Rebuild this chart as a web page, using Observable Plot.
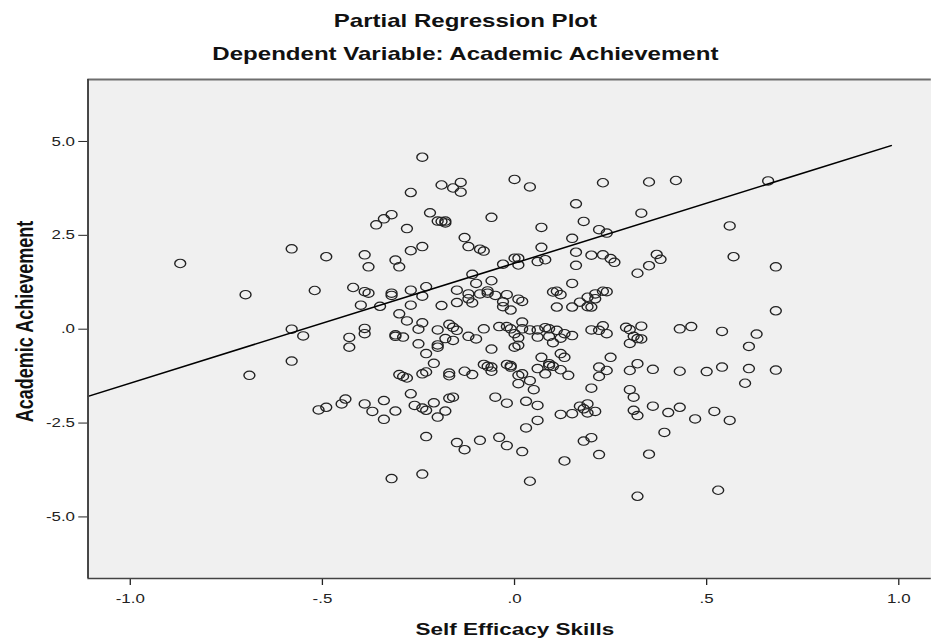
<!DOCTYPE html>
<html><head><meta charset="utf-8">
<script src="https://cdn.jsdelivr.net/npm/d3@7"></script>
<script src="https://cdn.jsdelivr.net/npm/@observablehq/plot@0.6"></script>
<style>
html,body{margin:0;padding:0;background:#fff;}
#wrap{width:716px;transform:scaleX(1.3);transform-origin:0 0;font-family:"Liberation Sans",Arial,sans-serif;color:#111;}
.t1{height:42px;line-height:42px;text-align:center;font-weight:bold;font-size:18.5px;}
.t2{height:23px;line-height:23px;text-align:center;font-weight:bold;font-size:18.5px;}
svg{display:block}
</style></head><body>
<div id="wrap"><div class="t1">Partial Regression Plot</div><div class="t2">Dependent Variable: Academic Achievement</div><div id="chart"></div></div>
<script>
const effX=[-0.87,-0.58,-0.49,-0.39,-0.70,-0.52,-0.42,-0.39,-0.38,-0.40,-0.58,-0.55,-0.43,-0.43,-0.39,-0.58,-0.69,-0.51,-0.49,-0.45,-0.44,-0.39,
-0.24,-0.19,-0.14,-0.16,-0.14,-0.27,0.00,0.04,0.23,0.16,0.18,0.07,-0.06,-0.22,-0.20,-0.19,-0.18,-0.18,-0.36,-0.34,-0.32,-0.28,-0.13,-0.12,-0.09,-0.08,-0.24,-0.27,-0.38,-0.31,-0.30,
0.07,0.22,0.24,0.15,0.16,0.20,0.16,0.23,0.25,0.26,0.00,0.01,0.01,-0.03,0.06,0.08,-0.11,-0.10,-0.06,0.15,-0.32,-0.32,-0.35,-0.27,-0.23,-0.24,-0.27,-0.19,-0.15,-0.15,-0.12,-0.12,-0.11,-0.09,-0.07,-0.07,-0.05,-0.02,-0.03,-0.03,-0.01,0.01,0.02,
0.10,0.11,0.12,0.11,0.15,0.17,0.19,0.19,0.20,0.21,0.21,0.23,0.24,-0.30,-0.28,-0.24,-0.25,-0.20,-0.17,-0.16,-0.15,-0.16,-0.18,-0.20,-0.20,-0.31,-0.31,-0.29,-0.39,-0.25,-0.23,-0.12,-0.10,-0.08,-0.06,-0.04,-0.02,-0.01,0.02,0.02,0.00,0.01,0.01,0.00,
0.04,0.06,0.08,0.09,0.09,0.06,0.10,0.11,0.12,0.13,0.15,0.20,0.22,0.23,0.24,0.07,0.12,0.13,0.25,
0.35,0.42,0.66,0.33,0.56,0.57,0.68,0.37,0.38,0.35,0.32,0.68,0.29,0.30,0.33,0.31,0.32,0.33,0.30,0.43,0.46,0.54,0.63,0.61,
0.32,0.24,0.30,0.36,0.43,0.50,0.54,0.61,0.68,0.60,0.30,0.31,0.31,0.32,0.36,0.40,0.43,0.47,0.52,0.56,0.39,0.35,0.32,0.53,
-0.21,-0.23,-0.24,-0.30,-0.29,-0.28,-0.17,-0.17,-0.13,-0.11,-0.08,-0.07,-0.06,-0.06,-0.02,-0.01,-0.01,0.01,0.02,0.01,0.04,0.05,0.06,0.08,0.09,0.09,0.10,0.12,0.14,0.22,0.22,0.20,
-0.27,-0.34,-0.37,-0.31,-0.34,-0.26,-0.24,-0.23,-0.21,-0.18,-0.20,-0.17,-0.16,-0.05,-0.02,0.03,0.06,0.06,0.03,0.12,0.15,0.17,0.19,0.18,0.19,0.21,
-0.23,-0.15,-0.13,-0.09,-0.04,-0.02,0.02,0.18,0.20,0.13,0.22,-0.32,-0.24,0.04];
const achY=[1.75,2.14,1.93,1.98,0.92,1.03,1.11,1.00,0.96,0.64,0.00,-0.18,-0.22,-0.48,0.02,-0.85,-1.23,-2.15,-2.08,-1.99,-1.86,-1.99,
4.58,3.84,3.91,3.76,3.65,3.64,3.99,3.79,3.90,3.34,2.87,2.71,2.98,3.10,2.88,2.87,2.88,2.83,2.78,2.94,3.05,2.68,2.44,2.20,2.13,2.08,2.20,2.09,1.66,1.84,1.66,
2.18,2.65,2.56,2.42,2.05,1.97,1.70,1.98,1.88,1.78,1.89,1.89,1.71,1.73,1.80,1.85,1.46,1.22,1.29,1.22,0.90,0.96,0.61,1.04,1.13,0.88,0.64,0.63,1.04,0.71,0.94,0.81,0.70,0.94,1.02,0.96,0.90,0.92,0.73,0.60,0.51,0.80,0.74,
0.99,1.01,0.92,0.59,0.59,0.72,0.85,0.60,0.59,0.81,0.94,1.01,1.00,0.41,0.22,0.17,0.00,-0.02,0.13,0.05,-0.03,-0.30,-0.25,-0.42,-0.48,-0.15,-0.19,-0.21,-0.12,-0.39,-0.65,-0.19,-0.26,0.01,-0.53,0.07,0.07,0.01,0.19,0.01,-0.12,-0.23,-0.43,-0.48,
-0.02,-0.02,0.04,0.01,-0.19,-0.21,-0.36,-0.03,-0.24,-0.12,-0.17,-0.02,-0.03,0.09,-0.12,-0.75,-0.65,-0.75,-0.75,
3.92,3.96,3.95,3.09,2.75,1.93,1.66,1.99,1.86,1.69,1.49,0.49,0.05,-0.01,0.08,-0.19,-0.25,-0.26,-0.38,0.01,0.07,-0.06,-0.13,-0.46,
-0.92,-1.10,-1.10,-1.07,-1.12,-1.13,-1.01,-1.05,-1.09,-1.44,-1.61,-1.81,-2.16,-2.30,-2.05,-2.22,-2.08,-2.39,-2.19,-2.43,-2.75,-3.33,-4.45,-4.29,
-0.91,-1.14,-1.19,-1.21,-1.26,-1.30,-1.17,-1.24,-1.12,-1.21,-0.94,-0.99,-1.01,-1.12,-0.94,-0.97,-1.01,-1.23,-1.19,-1.45,-1.37,-1.61,-1.05,-1.19,-0.97,-0.92,-0.99,-1.08,-1.23,-1.01,-1.26,-1.57,
-1.72,-1.90,-2.19,-2.18,-2.40,-2.03,-2.10,-2.16,-1.96,-2.18,-2.34,-1.84,-1.81,-1.81,-1.97,-1.92,-2.03,-2.43,-2.63,-2.27,-2.25,-2.05,-1.99,-2.12,-2.23,-2.19,
-2.86,-3.02,-3.21,-2.96,-2.88,-3.10,-3.26,-2.98,-2.89,-3.51,-3.34,-3.98,-3.86,-4.05];
const xTicks=[-1,-0.5,0,0.5,1];
const xTickLabels=["-1.0","-.5",".0",".5","1.0"];
const yTicks=[-5,-2.5,0,2.5,5];
const yTickLabels=["-5.0","-2.5",".0","2.5","5.0"];
const fitX=[-1.11,0.98];
const fitY=[-1.79,4.89];
const xDomain=[-1.11,1.085];
const yDomain=[-6.64,6.65];
const xTitle="Self Efficacy Skills";
const yTitle="Academic Achievement";

const points=effX.map((x,i)=>({x,y:achY[i]}));
const fit=fitX.map((x,i)=>({x,y:fitY[i]}));
const chart=Plot.plot({
  width:716,height:574,marginTop:14,marginBottom:61,marginLeft:67.2,marginRight:0,
  style:{fontFamily:"'Liberation Sans',Arial,sans-serif",fontSize:"13px",color:"#222",background:"transparent",overflow:"visible"},
  x:{domain:xDomain,ticks:xTicks,tickFormat:d=>xTickLabels[xTicks.indexOf(d)],tickSize:7,tickPadding:8,label:null},
  y:{domain:yDomain,ticks:yTicks,tickFormat:d=>yTickLabels[yTicks.indexOf(d)],tickSize:7,tickPadding:3,label:null},
  marks:[
    Plot.frame({fill:"#f0f0f0",stroke:"none"}),
    Plot.ruleY([yDomain[1]],{stroke:"#6e6e6e",strokeWidth:2}),
    Plot.dot(points,{x:"x",y:"y",r:4.2,stroke:"#222",strokeWidth:1.1,fill:"none"}),
    Plot.line(fit,{x:"x",y:"y",stroke:"#000",strokeWidth:1.5}),
    Plot.ruleX([xDomain[0]],{stroke:"#444",strokeWidth:1.5}),
    Plot.ruleY([yDomain[0]],{stroke:"#444",strokeWidth:1.3}),
    Plot.text([xTitle],{text:d=>d,frameAnchor:"bottom",lineAnchor:"bottom",textAnchor:"middle",dy:56,dx:4,fontWeight:"bold",fontSize:17.3,fill:"#111"}),
    Plot.text([yTitle],{text:d=>d,frameAnchor:"left",rotate:-90,lineAnchor:"bottom",textAnchor:"middle",dx:-42,dy:-7.5,fontWeight:"bold",fontSize:18,fill:"#111"})
  ]
});
document.getElementById("chart").appendChild(chart);
</script>
</body></html>
